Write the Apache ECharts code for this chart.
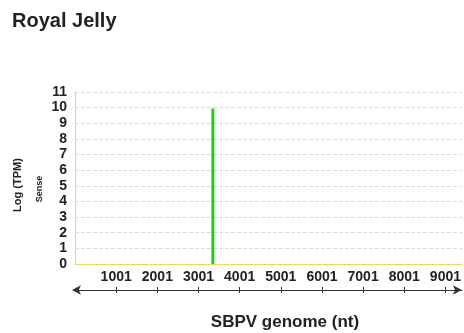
<!DOCTYPE html>
<html>
<head>
<meta charset="utf-8">
<script src="https://cdn.jsdelivr.net/npm/echarts@6/dist/echarts.min.js"></script>
<style>
  html, body { margin: 0; padding: 0; background: #fff; }
  #chart { width: 464px; height: 333px; }
</style>
</head>
<body>
<div id="chart"></div>
<script>
// Read coverage along the SBPV genome (sense strand), log(TPM)
const positions = [3350];
const logTpm = [9.95];
const genomeTicks = [1001, 2001, 3001, 4001, 5001, 6001, 7001, 8001, 9001];
const yTicks = [0, 1, 2, 3, 4, 5, 6, 7, 8, 9, 10, 11];

const FONT = 'Liberation Sans, Arial, sans-serif';
const chart = echarts.init(document.getElementById('chart'), null, { renderer: 'canvas' });

const GRID = { left: 75, right: 2, top: 92, bottom: 69 };
const X_MIN = 0, X_MAX = 9400;
const plain = v => String(v);

chart.setOption({
  animation: false,
  backgroundColor: '#ffffff',
  title: {
    text: 'Royal Jelly',
    left: 7, top: 6,
    textStyle: { fontFamily: FONT, fontSize: 20, fontWeight: 'bold', color: '#222' }
  },
  grid: GRID,
  xAxis: [
    {
      type: 'value', min: X_MIN, max: X_MAX,
      axisLine: { show: true, lineStyle: { color: '#f2d36b', width: 1 } },
      axisTick: { show: false },
      splitLine: { show: false },
      axisLabel: {
        customValues: genomeTicks, margin: 6, formatter: plain,
        fontFamily: FONT, fontSize: 14, fontWeight: 'bold', color: '#222'
      }
    },
    {
      // genome arrow below the labels
      type: 'value', min: X_MIN, max: X_MAX, position: 'bottom', offset: 26,
      axisLine: { show: true, symbol: ['arrow', 'arrow'], symbolSize: [7, 9], symbolOffset: [-3, 0],
        lineStyle: { color: '#333', width: 1 } },
      axisTick: { show: true, customValues: genomeTicks, length: 3, lineStyle: { color: '#333' } },
      axisLabel: { show: false },
      splitLine: { show: false }
    },
    {
      type: 'value', min: X_MIN, max: X_MAX, position: 'bottom', offset: 26,
      axisLine: { show: false },
      axisTick: { show: true, inside: true, customValues: genomeTicks, length: 3, lineStyle: { color: '#333' } },
      axisLabel: { show: false },
      splitLine: { show: false }
    }
  ],
  yAxis: {
    type: 'value', min: 0, max: 11, interval: 1,
    axisLine: { show: true, lineStyle: { color: '#d0d0d0' } },
    axisTick: { show: false },
    splitLine: { show: true, lineStyle: { color: '#dcdcdc', type: 'dashed', width: 1 } },
    axisLabel: {
      customValues: yTicks, margin: 8, formatter: plain,
      fontFamily: FONT, fontSize: 14, fontWeight: 'bold', color: '#222'
    }
  },
  series: [{
    type: 'bar',
    xAxisIndex: 0,
    barWidth: 3,
    itemStyle: { color: '#1fce1f' },
    data: positions.map((p, i) => [p, logTpm[i]])
  }],
  graphic: [
    {
      type: 'text', x: 18, y: 185, rotation: Math.PI / 2,
      style: { text: 'Log (TPM)', fontFamily: FONT, fontSize: 11, fontWeight: 'bold', fill: '#222',
        align: 'center', verticalAlign: 'middle' }
    },
    {
      type: 'text', x: 40, y: 189, rotation: Math.PI / 2,
      style: { text: 'Sense', fontFamily: FONT, fontSize: 9, fontWeight: 'bold', fill: '#222',
        align: 'center', verticalAlign: 'middle' }
    },
    {
      type: 'text', x: 285, y: 322,
      style: { text: 'SBPV genome (nt)', fontFamily: FONT, fontSize: 17, fontWeight: 'bold', fill: '#222',
        align: 'center', verticalAlign: 'middle' }
    }
  ]
});
</script>
</body>
</html>
